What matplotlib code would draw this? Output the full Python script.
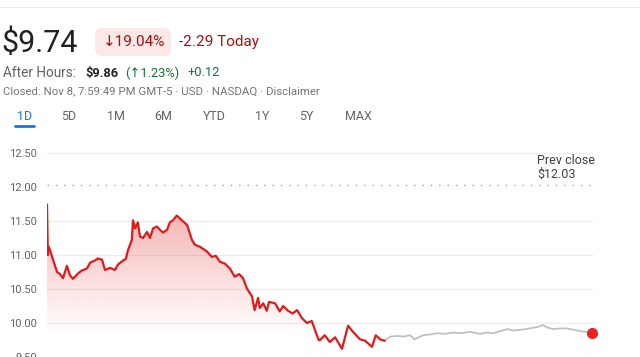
import numpy as np
import matplotlib.pyplot as plt
from matplotlib.colors import to_rgb
from matplotlib.lines import Line2D
from matplotlib.patches import FancyBboxPatch

plt.rcParams['font.family'] = ['Roboto', 'DejaVu Sans']

# regular session, minutes after the 9:30 open
session_min = [0, 1, 2, 3.5, 7, 11.6, 15, 18.5, 23, 26.6, 30, 36, 40, 46, 50,
               55.5, 59, 63.6, 67, 73, 78.6, 82, 88, 91, 93.6, 98, 99.4, 101.7,
               105, 107.5, 111, 115.6, 119, 122.5, 127, 130.6, 134, 138.7, 142,
               145.6, 150, 156, 162, 167.6, 171, 177, 185, 190.7, 195, 200, 206,
               211.5, 217, 222, 226.6, 231, 237, 240, 244, 246, 250, 254, 256.6,
               263.6, 269, 273, 278.6, 284, 289, 294.8, 300.5, 306, 310, 314,
               315.6, 321, 327, 333, 341, 348, 353.7, 361.8, 367.6, 375.7, 380,
               385, 390]
session_px = [11.74, 11.00, 11.12, 11.07, 10.93, 10.75, 10.72, 10.66, 10.84,
              10.70, 10.65, 10.73, 10.77, 10.80, 10.89, 10.92, 10.95, 10.93,
              10.78, 10.81, 10.78, 10.86, 10.92, 10.94, 11.07, 11.22, 11.51,
              11.39, 11.48, 11.27, 11.25, 11.34, 11.25, 11.39, 11.42, 11.37,
              11.33, 11.37, 11.48, 11.51, 11.58, 11.51, 11.44, 11.22, 11.15,
              11.12, 11.05, 10.97, 10.99, 10.90, 10.87, 10.80, 10.68, 10.72,
              10.66, 10.51, 10.39, 10.19, 10.37, 10.22, 10.29, 10.18, 10.31,
              10.29, 10.17, 10.25, 10.18, 10.14, 10.19, 10.07, 10.00, 10.03,
              9.89, 9.75, 9.75, 9.82, 9.72, 9.79, 9.62, 9.96, 9.87, 9.76, 9.74,
              9.65, 9.82, 9.76, 9.74]

# after hours, 16:00 to 20:00
after_min = [390, 397, 404.6, 412, 419.6, 425, 434.6, 442, 450.8, 460, 469,
             479, 489, 500.6, 508, 515.6, 524, 531.8, 539, 546.8, 554, 561.8,
             567, 573, 579, 585, 593, 601, 609, 616, 623, 630]
after_px = [9.74, 9.80, 9.81, 9.80, 9.82, 9.76, 9.82, 9.83, 9.85, 9.84, 9.86,
            9.85, 9.87, 9.84, 9.86, 9.85, 9.88, 9.91, 9.89, 9.90, 9.91, 9.93,
            9.94, 9.97, 9.93, 9.91, 9.92, 9.92, 9.90, 9.88, 9.87, 9.86]

prev_close = 12.03
yticks = [9.5, 10.0, 10.5, 11.0, 11.5, 12.0, 12.5]
tabs = ['1D', '5D', '1M', '6M', 'YTD', '1Y', '5Y', 'MAX']

RED = '#e01b1b'
TXT = '#202124'
GREY = '#5f6368'
DOWN = '#a50e0e'
UP = '#137333'

fig = plt.figure(figsize=(6.4, 3.57), dpi=100)
inch = fig.dpi_scale_trans


def put(x, y, s, **kw):
    """ text placed in pixels from the top left corner """
    kw.setdefault('va', 'center')
    return fig.text(x / 100, (357 - y) / 100, s, transform=inch, **kw)


# header
close = session_px[-1]
chg = close - prev_close
ah = after_px[-1]
ah_chg = ah - close

fig.add_artist(Line2D([0, 6.4], [3.50, 3.50], transform=inch,
                      color='#ebebeb', lw=0.8))
put(1, 43, f'${close:.2f}', fontsize=22, color=TXT)
fig.add_artist(FancyBboxPatch((0.95, (357 - 56) / 100), 0.76, 0.28,
                              boxstyle='round,pad=0,rounding_size=0.07',
                              transform=inch, fc='#fce8e6', ec='none'))
put(103, 42, f'↓{abs(chg) / prev_close * 100:.2f}%', fontsize=11, color=DOWN)
put(179, 42, f'{chg:.2f} Today', fontsize=11, color=DOWN)

put(3, 73, 'After Hours:', fontsize=9.8, color=GREY)
put(85, 73, f'${ah:.2f}', fontsize=9.3, color=TXT, fontweight='bold')
put(125, 73, f'(↑{ah_chg / close * 100:.2f}%)', fontsize=9.3, color=UP)
put(188, 73, f'+{ah_chg:.2f}', fontsize=9.3, color=UP)
put(3, 91, 'Closed: Nov 8, 7:59:49 PM GMT-5 · USD · NASDAQ · Disclaimer',
    fontsize=8.2, color='#70757a')

tab_x = [25, 69, 116, 163, 214, 262, 306, 358]
for t, x in zip(tabs, tab_x):
    put(x, 116, t, fontsize=9, ha='center',
        color='#1a73e8' if t == '1D' else GREY)
fig.add_artist(Line2D([0.15, 0.34], [(357 - 126) / 100] * 2, transform=inch,
                      color='#1a73e8', lw=2, solid_capstyle='round'))

# chart
ax = fig.add_axes([47 / 640, 0, 545 / 640, 204 / 357])
for s in ax.spines.values():
    s.set_visible(False)
ax.set_xticks([])
ax.set_yticks(yticks)
ax.set_yticklabels([f'{v:.2f}' for v in yticks])
ax.tick_params(length=0, pad=7, labelsize=8, labelcolor=GREY)

for v in yticks:
    if v != 12.0:
        ax.axhline(v, color='#ececec', lw=0.8, zorder=0, clip_on=False)
ax.axhline(prev_close, color='#a0a4a8', lw=1, dashes=(1, 5), zorder=0,
           clip_on=False)

# gradient under the session line
poly = ax.fill_between(session_min, session_px, 9.5, color='none', lw=0)
ys = np.linspace(9.5, 11.8, 256)
rgba = np.zeros((256, 1, 4))
rgba[..., :3] = to_rgb(RED)
rgba[:, 0, 3] = np.clip((ys - 9.85) / (11.75 - 9.85), 0, 1) * 0.35
im = ax.imshow(rgba, extent=[0, 390, 9.5, 11.8], origin='lower',
               aspect='auto', zorder=1)
im.set_clip_path(poly.get_paths()[0], transform=ax.transData)

ax.plot(after_min, after_px, color='#bdc1c6', lw=1.3, zorder=2)
ax.plot(session_min, session_px, color=RED, lw=1.6, zorder=3)
ax.plot(after_min[-1], after_px[-1], 'o', ms=7, color='#ee2222', zorder=4,
        clip_on=False)

ax.set_xlim(0, 630)
ax.set_ylim(9.5, 12.5)

put(537, 161, 'Prev close', fontsize=9, color='#3c4043')
put(537, 174, f'${prev_close:.2f}', fontsize=9, color='#3c4043')

plt.savefig('out.png', dpi=100)
